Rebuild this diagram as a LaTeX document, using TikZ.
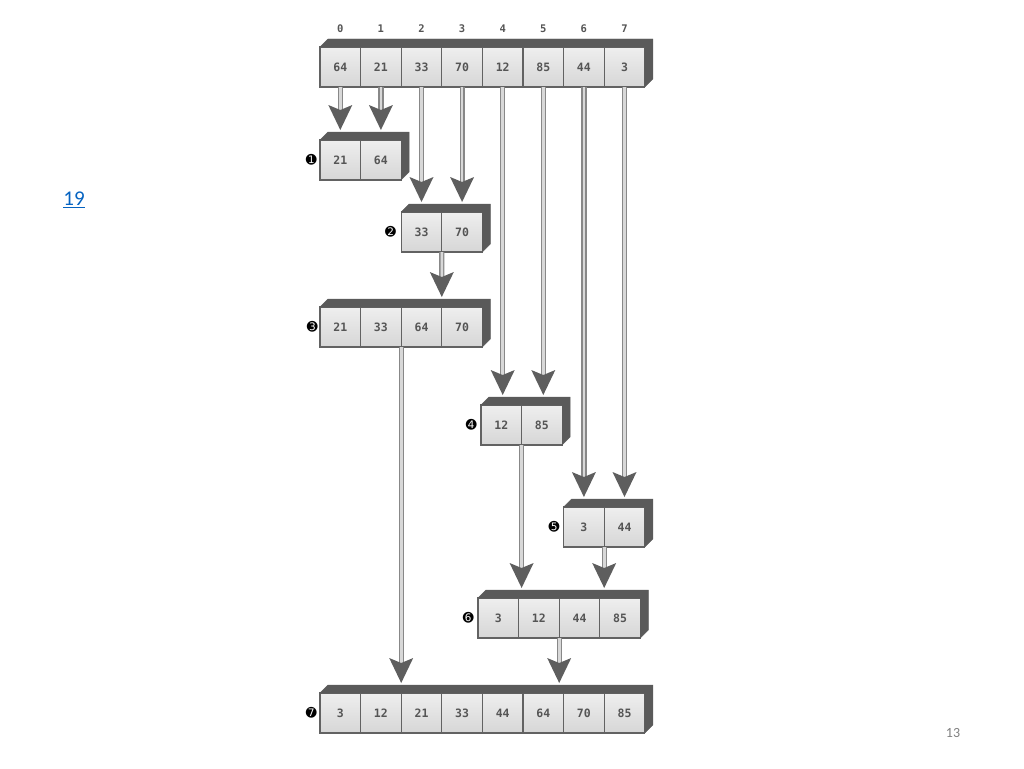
\documentclass[tikz,border=0pt]{standalone}
\usepackage{fontspec}
\setmainfont{Carlito}
\newfontfamily\cellfont{DejaVu Sans Mono}
\newfontfamily\badgefont{DejaVu Sans}
\usepackage{tikz}
\usetikzlibrary{arrows.meta,positioning}
\usepackage{xcolor}
\definecolor{cellline}{HTML}{626262}
\definecolor{backface}{HTML}{5A5A5A}
\definecolor{headgray}{HTML}{5E5E5E}
\definecolor{shaftin}{HTML}{D8D8D8}
\definecolor{shaftout}{HTML}{888888}
\definecolor{digit}{HTML}{555555}
\definecolor{linkblue}{HTML}{0563C1}

\begin{document}
\begin{tikzpicture}[
  x=1pt,y=-1pt,
  node distance=0pt,
  cell/.style={draw=cellline,line width=1.1pt,top color=gray!13,bottom color=gray!32,minimum width=40.6pt,minimum height=40pt,inner sep=0pt,outer sep=0pt,text=digit,font=\cellfont\bfseries\fontsize{11.5}{13}\selectfont},
  idx/.style={inner sep=0pt,text=digit,font=\cellfont\bfseries\fontsize{10.5}{12}\selectfont},
  badge/.style={inner sep=0pt,font=\badgefont\fontsize{13}{14}\selectfont},
  back/.style={fill=backface,draw=backface,line width=0.4pt,line join=round},
  flow/.style={-{Stealth[length=25pt,width=24pt,inset=5pt,line width=0pt,color=headgray]},draw=shaftin,line width=2.6pt,shorten >=10pt,
    preaction={draw=shaftout,line width=5.2pt,-,shorten >=30pt}}
]
\useasboundingbox (0,0) rectangle (1024,768);

% input array
\node[cell] (t1) at (340.3,67) {64};
\node[cell, right=of t1] (t2) {21};
\node[cell, right=of t2] (t3) {33};
\node[cell, right=of t3] (t4) {70};
\node[cell, right=of t4] (t5) {12};
\node[cell, right=of t5] (t6) {85};
\node[cell, right=of t6] (t7) {44};
\node[cell, right=of t7] (t8) {3};
\draw[back] (t1.north west) -- ++(8,-8) -| ([shift={(8,-8)}]t8.south east) -- (t8.south east) -- (t8.north east) -- cycle;
\node[idx, above=14pt of t1] (i1) {0};
\node[idx, above=14pt of t2] (i2) {1};
\node[idx, above=14pt of t3] (i3) {2};
\node[idx, above=14pt of t4] (i4) {3};
\node[idx, above=14pt of t5] (i5) {4};
\node[idx, above=14pt of t6] (i6) {5};
\node[idx, above=14pt of t7] (i7) {6};
\node[idx, above=14pt of t8] (i8) {7};

% step 1
\node[cell] (b1a) at (340.3,160) {21};
\node[cell, right=of b1a] (b1b) {64};
\draw[back] (b1a.north west) -- ++(8,-8) -| ([shift={(8,-8)}]b1b.south east) -- (b1b.south east) -- (b1b.north east) -- cycle;
\node[badge, left=3pt of b1a] (m1) {➊};

% step 2
\node[cell] (b2a) at (421.5,232) {33};
\node[cell, right=of b2a] (b2b) {70};
\draw[back] (b2a.north west) -- ++(8,-8) -| ([shift={(8,-8)}]b2b.south east) -- (b2b.south east) -- (b2b.north east) -- cycle;
\node[badge, left=5pt of b2a] (m2) {➋};

% step 3
\node[cell] (b3a) at (340.3,327) {21};
\node[cell, right=of b3a] (b3b) {33};
\node[cell, right=of b3b] (b3c) {64};
\node[cell, right=of b3c] (b3d) {70};
\draw[back] (b3a.north west) -- ++(8,-8) -| ([shift={(8,-8)}]b3d.south east) -- (b3d.south east) -- (b3d.north east) -- cycle;
\node[badge, left=2pt of b3a] (m3) {➌};

% step 4
\node[cell] (b4a) at (501.3,425) {12};
\node[cell, right=of b4a] (b4b) {85};
\draw[back] (b4a.north west) -- ++(8,-8) -| ([shift={(8,-8)}]b4b.south east) -- (b4b.south east) -- (b4b.north east) -- cycle;
\node[badge, left=4pt of b4a] (m4) {➍};

% step 5
\node[cell] (b5a) at (583.9,527) {3};
\node[cell, right=of b5a] (b5b) {44};
\draw[back] (b5a.north west) -- ++(8,-8) -| ([shift={(8,-8)}]b5b.south east) -- (b5b.south east) -- (b5b.north east) -- cycle;
\node[badge, left=4pt of b5a] (m5) {➎};

% step 6
\node[cell] (b6a) at (498.3,618) {3};
\node[cell, right=of b6a] (b6b) {12};
\node[cell, right=of b6b] (b6c) {44};
\node[cell, right=of b6c] (b6d) {85};
\draw[back] (b6a.north west) -- ++(8,-8) -| ([shift={(8,-8)}]b6d.south east) -- (b6d.south east) -- (b6d.north east) -- cycle;
\node[badge, left=4pt of b6a] (m6) {➏};

% step 7
\node[cell] (b7a) at (340.3,713) {3};
\node[cell, right=of b7a] (b7b) {12};
\node[cell, right=of b7b] (b7c) {21};
\node[cell, right=of b7c] (b7d) {33};
\node[cell, right=of b7d] (b7e) {44};
\node[cell, right=of b7e] (b7f) {64};
\node[cell, right=of b7f] (b7g) {70};
\node[cell, right=of b7g] (b7h) {85};
\draw[back] (b7a.north west) -- ++(8,-8) -| ([shift={(8,-8)}]b7h.south east) -- (b7h.south east) -- (b7h.north east) -- cycle;
\node[badge, left=3pt of b7a] (m7) {➐};

% moves
\draw[flow] (t1.south) -- (t1.south |- b1a.north);
\draw[flow] (t2.south) -- (t2.south |- b1b.north);
\draw[flow] (t3.south) -- (t3.south |- b2a.north);
\draw[flow] (t4.south) -- (t4.south |- b2b.north);
\draw[flow] (b2a.south east) -- (b3c.north east);
\draw[flow] (t5.south) -- (t5.south |- b4a.north);
\draw[flow] (t6.south) -- (t6.south |- b4b.north);
\draw[flow] (t7.south) -- (t7.south |- b5a.north);
\draw[flow] (t8.south) -- (t8.south |- b5b.north);
\draw[flow] (b3b.south east) -- (b7b.north east);
\draw[flow] (b4a.south east) -- (b4a.south east |- b6a.north);
\draw[flow] (b5a.south east) -- (b5a.south east |- b6c.north);
\draw[flow] (b6b.south east) -- (b6b.south east |- b7f.north);

% slide furniture
\node[text=linkblue,font=\fontsize{21}{23}\selectfont] (ref) at (74,200) {\underline{19}};
\node[text=gray,font=\fontsize{14}{16}\selectfont] (page) at (953,733) {13};
\end{tikzpicture}
\end{document}
